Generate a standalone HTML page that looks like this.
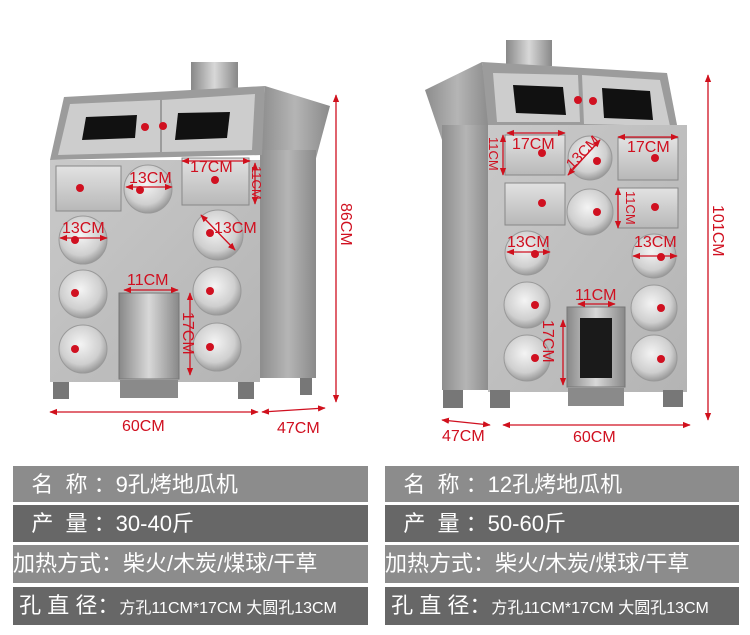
<!DOCTYPE html>
<html><head><meta charset="utf-8"><style>
html,body{margin:0;padding:0;background:#fff;width:750px;height:635px;overflow:hidden}
.row{position:absolute;color:#fff;font-family:"Liberation Sans","Noto Sans CJK SC",sans-serif;font-size:22px;line-height:37px;white-space:nowrap;overflow:hidden}
.l{background:#8c8c8c}.d{background:#676767}
</style></head><body>
<svg width="750" height="460" style="position:absolute;left:0;top:0" font-family="Liberation Sans, sans-serif">
<defs>
<radialGradient id="cg" cx="0.45" cy="0.4" r="0.6"><stop offset="0" stop-color="#f4f4f4"/><stop offset="0.7" stop-color="#cfcfcf"/><stop offset="1" stop-color="#9a9a9a"/></radialGradient>
<linearGradient id="fr" x1="0" y1="0" x2="1" y2="1"><stop offset="0" stop-color="#c9c9c9"/><stop offset="1" stop-color="#b4b4b4"/></linearGradient>
<linearGradient id="sd" x1="0" y1="0" x2="1" y2="0"><stop offset="0" stop-color="#8d8d8d"/><stop offset="0.5" stop-color="#b5b5b5"/><stop offset="1" stop-color="#8a8a8a"/></linearGradient>
<linearGradient id="dr" x1="0" y1="0" x2="0" y2="1"><stop offset="0" stop-color="#e2e2e2"/><stop offset="1" stop-color="#b8b8b8"/></linearGradient>
<linearGradient id="bx" x1="0" y1="0" x2="1" y2="0"><stop offset="0" stop-color="#888"/><stop offset="0.5" stop-color="#d8d8d8"/><stop offset="1" stop-color="#888"/></linearGradient>
<marker id="a" viewBox="0 0 10 10" refX="9" refY="5" markerWidth="6" markerHeight="6" orient="auto-start-reverse"><path d="M0,1L10,5L0,9z" fill="#d0101c"/></marker>
</defs>
<rect x="191" y="62" width="47" height="28" fill="url(#bx)"/>
<polygon points="265,86 330,106 315,162 260,160" fill="url(#sd)"/>
<rect x="260" y="150" width="56" height="228" fill="url(#sd)"/>
<polygon points="64,97 265,86 262,155 50,160" fill="#9c9c9c"/>
<polygon points="70,104 160,100 160,152 58,155" fill="#cdcdcd"/>
<polygon points="162,100 255,94 252,150 162,152" fill="#cdcdcd"/>
<polygon points="86,117 137,115 135,138 82,140" fill="#111"/>
<polygon points="178,113 230,112 227,138 175,140" fill="#111"/>
<circle cx="145" cy="127" r="4" fill="#d01020"/><circle cx="163" cy="126" r="4" fill="#d01020"/>
<rect x="50" y="160" width="210" height="222" fill="url(#fr)"/>
<rect x="56" y="166" width="65" height="45" fill="url(#dr)" stroke="#888"/>
<rect x="182" y="158" width="67" height="47" fill="url(#dr)" stroke="#888"/>
<g stroke="#999" fill="url(#cg)">
<circle cx="148" cy="189" r="24"/><circle cx="83" cy="240" r="24"/><circle cx="218" cy="235" r="25"/>
<circle cx="83" cy="294" r="24"/><circle cx="83" cy="349" r="24"/><circle cx="217" cy="291" r="24"/><circle cx="217" cy="347" r="24"/></g>
<g fill="#d01020"><circle cx="80" cy="188" r="4"/><circle cx="215" cy="180" r="4"/><circle cx="140" cy="190" r="4"/><circle cx="75" cy="240" r="4"/><circle cx="210" cy="233" r="4"/><circle cx="75" cy="293" r="4"/><circle cx="75" cy="349" r="4"/><circle cx="210" cy="291" r="4"/><circle cx="210" cy="347" r="4"/></g>
<rect x="119" y="293" width="60" height="86" fill="url(#bx)" stroke="#777"/>
<rect x="120" y="380" width="58" height="18" fill="#8a8a8a"/>
<rect x="53" y="382" width="16" height="17" fill="#777"/><rect x="238" y="382" width="16" height="17" fill="#777"/><rect x="300" y="378" width="12" height="17" fill="#777"/>
<rect x="506" y="40" width="46" height="26" fill="url(#bx)"/>
<polygon points="425,90 482,62 490,125 442,140" fill="url(#sd)"/>
<rect x="442" y="125" width="48" height="265" fill="url(#sd)"/>
<polygon points="482,62 667,73 678,130 488,125" fill="#9c9c9c"/>
<polygon points="493,73 578,75 580,122 497,122" fill="#cdcdcd"/>
<polygon points="582,75 660,80 670,126 584,124" fill="#cdcdcd"/>
<polygon points="513,85 563,87 566,115 516,113" fill="#111"/>
<polygon points="602,88 650,91 653,120 604,118" fill="#111"/>
<circle cx="578" cy="100" r="4" fill="#d01020"/><circle cx="593" cy="101" r="4" fill="#d01020"/>
<rect x="488" y="125" width="199" height="267" fill="url(#fr)"/>
<rect x="505" y="135" width="60" height="40" fill="url(#dr)" stroke="#888"/>
<rect x="618" y="138" width="60" height="42" fill="url(#dr)" stroke="#888"/>
<rect x="505" y="183" width="60" height="42" fill="url(#dr)" stroke="#888"/>
<rect x="618" y="188" width="60" height="40" fill="url(#dr)" stroke="#888"/>
<g stroke="#999" fill="url(#cg)">
<circle cx="590" cy="158" r="22"/><circle cx="590" cy="212" r="23"/><circle cx="527" cy="253" r="22"/><circle cx="527" cy="305" r="23"/><circle cx="527" cy="358" r="23"/>
<circle cx="654" cy="256" r="22"/><circle cx="654" cy="308" r="23"/><circle cx="654" cy="358" r="23"/></g>
<g fill="#d01020"><circle cx="542" cy="153" r="4"/><circle cx="655" cy="158" r="4"/><circle cx="542" cy="203" r="4"/><circle cx="655" cy="207" r="4"/><circle cx="597" cy="161" r="4"/><circle cx="597" cy="212" r="4"/><circle cx="535" cy="254" r="4"/><circle cx="535" cy="305" r="4"/><circle cx="535" cy="358" r="4"/><circle cx="661" cy="257" r="4"/><circle cx="661" cy="308" r="4"/><circle cx="661" cy="359" r="4"/></g>
<rect x="567" y="307" width="58" height="80" fill="url(#bx)" stroke="#777"/>
<rect x="580" y="318" width="32" height="60" fill="#1a1a1a"/>
<rect x="568" y="388" width="56" height="18" fill="#8a8a8a"/>
<rect x="443" y="390" width="20" height="18" fill="#777"/><rect x="490" y="390" width="20" height="18" fill="#777"/><rect x="663" y="390" width="20" height="17" fill="#777"/>
<g stroke="#d01020" stroke-width="1.3" fill="none" marker-start="url(#a)" marker-end="url(#a)">
<line x1="336" y1="95" x2="336" y2="402"/><line x1="50" y1="412" x2="258" y2="412"/><line x1="262" y1="412" x2="325" y2="408"/>
<line x1="708" y1="75" x2="708" y2="420"/><line x1="442" y1="420" x2="490" y2="425"/><line x1="503" y1="425" x2="690" y2="425"/>
<line x1="124" y1="290" x2="178" y2="290"/><line x1="190" y1="293" x2="190" y2="375"/>
<line x1="578" y1="304" x2="615" y2="304"/><line x1="563" y1="320" x2="563" y2="385"/>
<line x1="126" y1="187" x2="172" y2="187"/><line x1="60" y1="238" x2="107" y2="238"/><line x1="201" y1="215" x2="235" y2="250"/>
<line x1="182" y1="161" x2="250" y2="161"/><line x1="255" y1="163" x2="255" y2="204"/>
<line x1="507" y1="133" x2="565" y2="133"/><line x1="503" y1="135" x2="503" y2="175"/><line x1="568" y1="175" x2="600" y2="140"/>
<line x1="618" y1="137" x2="678" y2="137"/><line x1="618" y1="188" x2="618" y2="228"/>
<line x1="507" y1="252" x2="550" y2="252"/><line x1="633" y1="256" x2="677" y2="256"/>
</g>
<g fill="#d01020" font-size="16">
<text x="122" y="431">60CM</text><text x="277" y="433">47CM</text>
<text x="442" y="441">47CM</text><text x="573" y="442">60CM</text>
<text x="129" y="183">13CM</text><text x="62" y="233">13CM</text><text x="214" y="233">13CM</text>
<text x="190" y="172">17CM</text><text x="127" y="285">11CM</text>
<text x="512" y="149">17CM</text><text x="627" y="152">17CM</text>
<text x="507" y="247">13CM</text><text x="634" y="247">13CM</text><text x="575" y="300">11CM</text>
<text transform="translate(341,203) rotate(90)">86CM</text>
<text transform="translate(713,205) rotate(90)">101CM</text>
<text transform="translate(183,312) rotate(90)">17CM</text>
<text transform="translate(543,320) rotate(90)">17CM</text>
<text transform="translate(252,166) rotate(90)" font-size="13">11CM</text>
<text transform="translate(489,137) rotate(90)" font-size="13">11CM</text>
<text transform="translate(626,191) rotate(90)" font-size="13">11CM</text>
<text transform="translate(572,170) rotate(-45)" font-size="15">13CM</text>
</g>
</svg>
<div class="row l" style="left:13px;top:466px;width:355px;height:36px">&nbsp;&nbsp;&nbsp;名&nbsp;&nbsp;称&nbsp;：9孔烤地瓜机</div>
<div class="row d" style="left:13px;top:505px;width:355px;height:37px">&nbsp;&nbsp;&nbsp;产&nbsp;&nbsp;量&nbsp;：30-40斤</div>
<div class="row l" style="left:13px;top:545px;width:355px;height:38px">加热方式：柴火/木炭/煤球/干草</div>
<div class="row d" style="left:13px;top:587px;width:355px;height:38px">&nbsp;孔&nbsp;直&nbsp;径：<span style="font-size:16px">方孔11CM*17CM 大圆孔13CM</span></div>
<div class="row l" style="left:385px;top:466px;width:354px;height:36px">&nbsp;&nbsp;&nbsp;名&nbsp;&nbsp;称&nbsp;：12孔烤地瓜机</div>
<div class="row d" style="left:385px;top:505px;width:354px;height:37px">&nbsp;&nbsp;&nbsp;产&nbsp;&nbsp;量&nbsp;：50-60斤</div>
<div class="row l" style="left:385px;top:545px;width:354px;height:38px">加热方式：柴火/木炭/煤球/干草</div>
<div class="row d" style="left:385px;top:587px;width:354px;height:38px">&nbsp;孔&nbsp;直&nbsp;径：<span style="font-size:16px">方孔11CM*17CM 大圆孔13CM</span></div>
</body></html>
